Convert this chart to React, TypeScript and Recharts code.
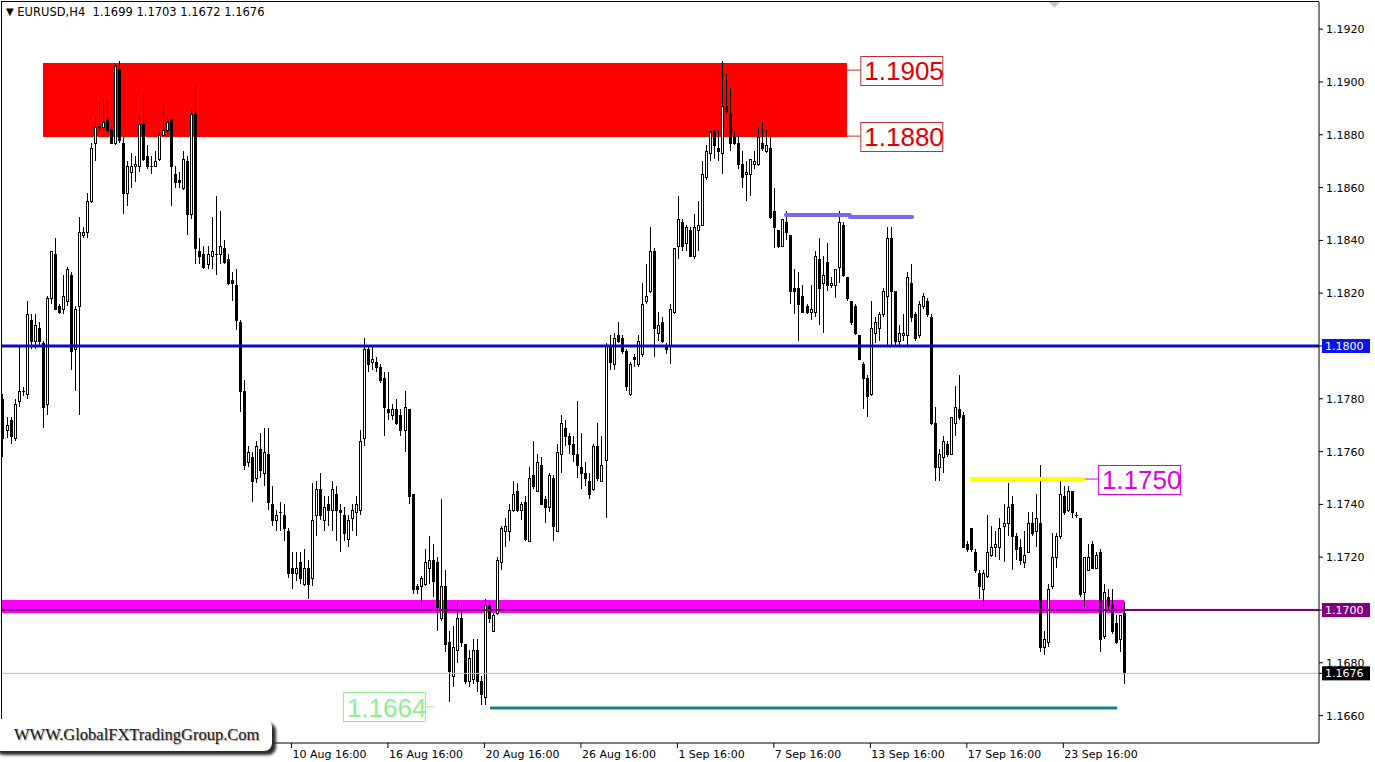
import { ComposedChart, Bar, XAxis, YAxis, ReferenceLine, ReferenceArea } from 'recharts'

// EURUSD H4, prices stored as pips above 1.1600
const PIP_BASE = 1.16

const OPEN = [
  180, 168, 172, 165, 179, 183, 182, 210, 202, 207, 201, 178, 218, 235, 215, 214, 217, 227, 199, 215,
  242, 243, 255, 277, 283, 283, 286, 282, 277, 305, 277, 258, 266, 268, 268, 284, 272, 268, 268, 271,
  280, 282, 286, 265, 263, 260, 270, 250, 288, 236, 235, 231, 234, 235, 235, 237, 233, 225, 223, 209,
  183, 156, 158, 150, 161, 152, 159, 140, 134, 137, 136, 130, 116, 114, 118, 110, 116, 112, 136, 146,
  134, 140, 138, 144, 138, 136, 127, 135, 137, 138, 165, 199, 194, 194, 192, 188, 176, 174, 176, 174,
  168, 176, 144, 109, 109, 110, 116, 119, 118, 97, 109, 88, 75, 85, 97, 87, 73, 74, 85, 73,
  67, 102, 92, 99, 118, 130, 130, 138, 145, 138, 141, 126, 151, 145, 155, 142, 139, 150, 130, 159,
  169, 166, 163, 159, 154, 152, 149, 146, 162, 149, 157, 200, 193, 204, 203, 198, 182, 196, 193, 197,
  217, 221, 236, 205, 209, 200, 200, 213, 238, 247, 239, 244, 234, 244, 246, 264, 273, 281, 275, 273,
  291, 288, 279, 277, 269, 265, 265, 269, 269, 277, 274, 275, 251, 244, 238, 247, 242, 222, 222, 219,
  215, 213, 213, 233, 224, 232, 223, 223, 230, 246, 226, 217, 215, 204, 193, 188, 182, 205, 207, 212,
  219, 241, 221, 202, 204, 204, 224, 212, 204, 215, 217, 211, 171, 154, 158, 163, 159, 171, 176, 174,
  125, 131, 122, 114, 108, 113, 121, 124, 124, 132, 133, 140, 128, 124, 118, 122, 133, 130, 133, 86,
  88, 109, 120, 128, 143, 138, 145, 136, 135, 107, 115, 125, 116, 122, 90, 105, 102, 95, 89, 99,
]

const HIGH = [
  182, 173, 173, 180, 200, 184.5, 217, 212, 212, 209, 202, 219, 236, 241, 216, 227, 230, 228, 215, 249,
  245, 258, 277, 287, 292, 294, 293, 283, 307, 308, 279, 270, 273, 272, 287, 296, 276, 272, 274, 281,
  292, 287, 286, 268, 266, 274, 272, 290, 299, 241, 238, 238, 249, 257, 251, 240, 235, 228, 229, 210,
  187, 162, 160, 164, 167, 169, 169, 147, 138, 141, 140, 131, 122, 122, 122, 123, 119, 148, 149, 152,
  143, 143, 149, 147, 140, 139, 136, 140, 143, 168, 203, 200, 200, 196, 193, 190, 190, 178, 180, 176,
  183, 176, 144, 110, 113, 123, 128, 125, 120, 142, 115, 92, 94, 103, 102, 87, 85, 89, 89, 75,
  104, 103, 99, 120, 132, 135, 140, 149, 148, 141, 143, 154, 164, 159, 158, 143, 152, 151, 163, 174,
  172, 167, 166, 179, 167, 156, 152, 163, 171, 166, 201, 204, 205, 209, 204, 199, 194, 197, 204, 224,
  231, 245, 237, 213, 211, 201, 216, 237, 257, 248, 246, 245, 250, 255, 270, 276, 282, 282, 282, 308,
  303, 298, 281, 280, 274, 270, 271, 274, 283, 285, 282, 279, 260, 244, 248, 251, 242, 229, 228, 223,
  216, 223, 236, 241, 234, 239, 226, 229, 251, 247, 226, 217, 216, 204, 194, 189, 217, 211, 213, 222,
  245, 245, 221, 208, 212, 228, 231, 213, 217, 220, 218, 212, 177, 161, 166, 164, 173, 185, 189, 175,
  126, 131, 123, 115, 115, 136, 132, 130, 135, 140, 148, 143, 129, 127, 130, 137, 137, 144, 155, 92,
  110, 129, 129, 150, 147, 147, 145, 137, 135, 120, 125, 126, 122, 123, 110, 108, 108, 98, 98, 103,
]

const LOW = [
  158, 165, 163, 164, 177, 181, 180, 199, 199, 200, 169, 174, 216, 214, 212, 212, 215, 191, 183, 174,
  241, 241, 254, 270, 281, 282, 281, 277, 276, 277, 250, 253, 260, 262, 266, 270, 267, 265, 268, 270,
  280, 279, 253, 260, 260, 259, 242, 248, 231, 231, 229, 229, 229, 227, 231, 231, 223, 217, 206, 175,
  153, 154, 141, 148, 150, 147, 138, 132, 130, 130, 126, 112, 108, 111, 110, 109, 104, 109, 128, 134,
  130, 132, 130, 126, 122, 126, 124, 130, 128, 136, 162, 190, 191, 190, 186, 166, 172, 172, 170, 166,
  160, 140, 106, 106, 101, 109, 110, 105, 92, 96, 84, 65, 71, 80, 86, 72, 71, 72, 69, 64,
  64, 95, 92, 98, 115, 124, 126, 137, 137, 134, 126, 126, 146, 145, 140, 133, 137, 126, 130, 152,
  162, 159, 156, 150, 146, 147, 142, 145, 149, 149, 135, 191, 191, 201, 197, 183, 181, 192, 192, 196,
  216, 220, 196, 202, 201, 197, 193, 212, 233, 236, 236, 234, 233, 236, 246, 263, 270, 271, 270, 265,
  288, 274, 276, 267, 260, 255, 257, 267, 268, 274, 273, 248, 237, 237, 238, 240, 216, 212, 202, 213,
  212, 210, 211, 208, 205, 221, 222, 218, 224, 226, 217, 208, 204, 195, 176, 173, 181, 201, 202, 211,
  200, 200, 200, 200, 202, 200, 209, 202, 203, 214, 211, 170, 149, 149, 152, 158, 159, 166, 172, 124,
  122, 122, 114, 104, 101, 112, 120, 120, 119, 118, 128, 115, 119, 117, 116, 122, 128, 124, 84, 83,
  86, 108, 116, 127, 136, 137, 135, 135, 105, 101, 115, 116, 116, 84, 89, 100, 91, 87, 84, 72,
]

const CLOSE = [
  165, 170, 166, 178, 183, 183, 212, 202, 208, 202, 177, 218, 236, 214, 213, 219, 229, 198, 214, 243,
  243, 255, 275, 283, 283.5, 285, 282, 277, 306, 278, 258, 268, 268, 269, 284, 271, 268, 268, 270, 280,
  282, 285, 268, 262, 262, 271, 250, 288, 237, 234, 230, 235, 236, 235, 238, 232, 224, 224, 210, 183,
  155, 160, 149, 162, 153, 160, 141, 134, 136, 137, 131, 114, 114, 116, 112, 116, 110, 134, 146, 136,
  139, 138, 146, 138, 137, 129, 134, 138, 140, 164, 199, 193, 195, 192, 187, 177, 175, 176, 171, 168,
  177, 143, 108, 108, 112, 118, 119, 111, 101, 109, 87, 77, 86, 97, 88, 73, 82, 85, 73, 68,
  102, 97, 98, 119, 131, 132, 138, 144, 138, 140, 127, 150, 147, 156, 140, 139, 151, 132, 160, 171,
  166, 163, 159, 155, 152, 150, 144, 162, 150, 155, 200, 194, 203, 202, 198, 185, 193, 195, 202, 216,
  219, 236, 207, 208, 202, 199, 214, 237, 248, 238, 245, 234, 245, 246, 265, 274, 281, 276, 274, 291,
  289, 277, 277, 269, 264, 266, 271, 270, 279, 275, 276, 249, 245, 238, 248, 243, 221, 221, 216, 213,
  213, 214, 234, 222, 227, 223, 224, 229, 247, 227, 218, 209, 205, 195, 188, 181, 207, 209, 212, 221,
  241, 221, 202, 205, 205, 226, 211, 203, 216, 219, 212, 171, 154, 159, 164, 159, 173, 177, 173, 124,
  123, 123, 115, 109, 114, 122, 124, 125, 131, 133, 139, 128, 123, 119, 121, 133, 129, 135, 86, 89,
  108, 120, 128, 144, 137, 145, 137, 136, 106, 120, 120, 116, 121, 89, 107, 102, 92, 88, 98, 76,
]

const TIME_TICK_BARS = [72, 96, 120, 144, 168, 192, 216, 240, 264]
const TIME_TICK_LABELS = [
  '10 Aug 16:00', '16 Aug 16:00', '20 Aug 16:00', '26 Aug 16:00', '1 Sep 16:00',
  '7 Sep 16:00', '13 Sep 16:00', '17 Sep 16:00', '23 Sep 16:00',
]
const PRICE_TICKS = [
  1.166, 1.168, 1.17, 1.172, 1.174, 1.176, 1.178, 1.18, 1.182, 1.184, 1.186, 1.188, 1.19, 1.192,
]

// drawn objects (levels in price, spans in bar index)
const RED_ZONE = { from: 10.2, to: 210.2, low: 1.18792, high: 1.19072 }
const MAGENTA_BAND = { from: 0, to: 279.2, low: 1.16989, high: 1.17038 }
const BLUE_LEVEL = 1.18
const PURPLE_LEVEL = 1.17
const BID_LEVEL = 1.1676
const AXIS_TAGS = [
  { price: BLUE_LEVEL, text: '1.1800', bg: '#0a14e6' },
  { price: PURPLE_LEVEL, text: '1.1700', bg: '#800080' },
  { price: BID_LEVEL, text: '1.1676', bg: '#000000' },
]
const SLATE_SEGMENTS = [
  { from: 195.0, to: 210.9, price: 1.18496 },
  { from: 210.9, to: 226.4, price: 1.18489 },
]
const YELLOW_SEGMENT = { from: 240.8, to: 269.4, price: 1.17496 }
const TEAL_SEGMENT = { from: 121.4, to: 277.4, price: 1.16629 }
const PRICE_TAGS = [
  { text: '1.1905', from: 210.2, to: 213.5, price: 1.19045, color: '#e00000', border: '#c03030', side: 'right' },
  { text: '1.1880', from: 210.2, to: 213.5, price: 1.18795, color: '#e00000', border: '#c03030', side: 'right' },
  { text: '1.1750', from: 269.4, to: 272.6, price: 1.17496, color: '#e000e0', border: '#e000e0', side: 'right' },
  { text: '1.1664', from: 105.2, to: 107.6, price: 1.16633, color: '#90ee90', border: '#90ee90', side: 'left' },
]

const X_DOMAIN: [number, number] = [0, 327.6]
const Y_DOMAIN: [number, number] = [1.164962, 1.19303]
const AXIS_FONT = 'DejaVu Sans, Verdana, sans-serif'

const toPrice = (p: number) => PIP_BASE + p / 10000

const bars = OPEN.map((o, i) => ({
  i,
  open: toPrice(o),
  high: toPrice(HIGH[i]),
  low: toPrice(LOW[i]),
  close: toPrice(CLOSE[i]),
}))

const Candle = (props: any) => {
  const { x, y, width, height, payload } = props
  if (x == null || y == null || !payload) return null
  const { open, close, high, low } = payload
  const top0 = Math.min(y, y + height)
  const h = Math.abs(height)
  const k = high > low ? h / (high - low) : 0
  const py = (v: number) => top0 + (high - v) * k
  const cx = Math.round(x + width / 2)
  const bTop = Math.round(py(Math.max(open, close)))
  const bBot = Math.round(py(Math.min(open, close)))
  const bull = close > open
  return (
    <g>
      <line x1={cx + 0.5} x2={cx + 0.5} y1={Math.round(top0)} y2={Math.round(top0 + h)} stroke="#000" strokeWidth={1} />
      {bBot - bTop >= 1 ? (
        <rect x={cx - 0.5} y={bTop + 0.5} width={2} height={bBot - bTop} fill={bull ? '#fff' : '#000'} stroke="#000" strokeWidth={1} />
      ) : (
        <line x1={cx - 1} x2={cx + 2} y1={bTop + 0.5} y2={bTop + 0.5} stroke="#000" strokeWidth={1} />
      )}
    </g>
  )
}

const TimeTick = (props: any) => {
  const { x, y, payload } = props
  const idx = TIME_TICK_BARS.indexOf(payload.value)
  return (
    <text x={x + 1} y={y} dy={8} fontSize={11} fontFamily={AXIS_FONT} fill="#000" textAnchor="start">
      {TIME_TICK_LABELS[idx]}
    </text>
  )
}

// price axis ticks; the level tags are drawn here so they sit on top of the axis text
const PriceTick = (props: any) => {
  const { x, y, payload } = props
  const v = payload.value as number
  const tag = AXIS_TAGS.find((t) => Math.abs(t.price - v) < 1e-9)
  if (tag) {
    return (
      <g>
        <rect x={x - 4} y={y - 7} width={48} height={14} fill={tag.bg} />
        <text x={x - 1} y={y + 4} fontSize={11} fontFamily={AXIS_FONT} fill="#fff">
          {tag.text}
        </text>
      </g>
    )
  }
  return (
    <text x={x} y={y + 4} fontSize={11} fontFamily={AXIS_FONT} fill="#000">
      {v.toFixed(4)}
    </text>
  )
}

const BoxTag = (props: any) => {
  const { viewBox, text, color, border, side } = props
  if (!viewBox) return null
  const w = 82
  const h = 29
  const left = side === 'right' ? viewBox.x + viewBox.width : viewBox.x - w
  return (
    <g>
      <rect x={left + 0.5} y={Math.round(viewBox.y - h / 2) + 0.5} width={w} height={h} fill="#fff" stroke={border} />
      <text x={left + 4} y={viewBox.y + 10} fontSize={26} fontFamily="Liberation Sans, Arial, sans-serif" fill={color}>
        {text}
      </text>
    </g>
  )
}

export default function App() {
  return (
    <div style={{ position: 'relative', width: 1375, height: 762, background: '#fff', overflow: 'hidden' }}>
      <style>{'body{margin:0}'}</style>
      <ComposedChart width={1375} height={762} data={bars} margin={{ top: 2, right: 0, bottom: 0, left: 2 }}>
        <XAxis
          type="number"
          dataKey="i"
          domain={X_DOMAIN}
          allowDataOverflow
          ticks={TIME_TICK_BARS}
          interval={0}
          height={19}
          tickSize={5}
          tick={<TimeTick />}
          axisLine={{ stroke: '#000' }}
          tickLine={{ stroke: '#000' }}
        />
        <YAxis
          orientation="right"
          width={56}
          domain={Y_DOMAIN}
          allowDataOverflow
          ticks={[...PRICE_TICKS, BID_LEVEL]}
          interval={0}
          tickSize={4}
          tickMargin={3}
          tick={<PriceTick />}
          axisLine={{ stroke: '#000' }}
          tickLine={{ stroke: '#000' }}
        />
        <ReferenceArea
          x1={RED_ZONE.from}
          x2={RED_ZONE.to}
          y1={RED_ZONE.low}
          y2={RED_ZONE.high}
          fill="#ff0000"
          fillOpacity={1}
          stroke="none"
        />
        <ReferenceArea
          x1={MAGENTA_BAND.from}
          x2={MAGENTA_BAND.to}
          y1={MAGENTA_BAND.low}
          y2={MAGENTA_BAND.high}
          fill="#ff00ff"
          fillOpacity={1}
          stroke="none"
        />
        <ReferenceLine y={BID_LEVEL} stroke="#c0c0c0" strokeWidth={1} />
        <Bar
          dataKey={(d: any) => [d.low, d.high]}
          barSize={3}
          shape={<Candle />}
          isAnimationActive={false}
        />
        <ReferenceLine y={BLUE_LEVEL} stroke="#0a0ac8" strokeWidth={3} />
        <ReferenceLine y={PURPLE_LEVEL} stroke="#800080" strokeWidth={2} />
        {SLATE_SEGMENTS.map((s, k) => (
          <ReferenceLine
            key={'s' + k}
            segment={[{ x: s.from, y: s.price }, { x: s.to, y: s.price }]}
            stroke="#7b68ee"
            strokeWidth={4}
            strokeLinecap="round"
          />
        ))}
        <ReferenceLine
          segment={[{ x: YELLOW_SEGMENT.from, y: YELLOW_SEGMENT.price }, { x: YELLOW_SEGMENT.to, y: YELLOW_SEGMENT.price }]}
          stroke="#ffff00"
          strokeWidth={4}
        />
        <ReferenceLine
          segment={[{ x: TEAL_SEGMENT.from, y: TEAL_SEGMENT.price }, { x: TEAL_SEGMENT.to, y: TEAL_SEGMENT.price }]}
          stroke="#138585"
          strokeWidth={3}
        />
        {PRICE_TAGS.map((t) => (
          <ReferenceLine
            key={t.text}
            segment={[{ x: t.from, y: t.price }, { x: t.to, y: t.price }]}
            stroke={t.border}
            strokeWidth={1}
            label={<BoxTag text={t.text} color={t.color} border={t.border} side={t.side} />}
          />
        ))}
      </ComposedChart>
      <div style={{ position: 'absolute', left: 1, top: 1, width: 0, height: 742, borderLeft: '1px solid #000' }} />
      <div style={{ position: 'absolute', left: 1, top: 1, width: 1318, height: 0, borderTop: '1px solid #000' }} />
      <svg style={{ position: 'absolute', left: 1049, top: 2 }} width={12} height={8}>
        <polygon points="0,0 11,0 5.5,6" fill="#c8c8c8" />
      </svg>
      <div
        style={{
          position: 'absolute',
          left: 6,
          top: 6,
          fontFamily: AXIS_FONT,
          fontSize: 11.5,
          lineHeight: '13px',
          color: '#000',
          whiteSpace: 'pre',
        }}
      >
        <span style={{ fontSize: 10, position: 'relative', top: -1 }}>▼</span>
        {' EURUSD,H4  1.1699 1.1703 1.1672 1.1676'}
      </div>
      <div
        style={{
          position: 'absolute',
          left: -8,
          top: 719,
          width: 280,
          height: 32,
          background: '#fff',
          borderRadius: 8,
          boxShadow: '4px 4px 3px #2a2a2a',
          fontFamily: 'Liberation Serif, Times New Roman, serif',
          fontSize: 16.5,
          lineHeight: '32px',
          color: '#1a1a1a',
          textShadow: '1px 1px 1px #999',
          paddingLeft: 22,
          boxSizing: 'border-box',
        }}
      >
        WWW.GlobalFXTradingGroup.Com
      </div>
    </div>
  )
}
